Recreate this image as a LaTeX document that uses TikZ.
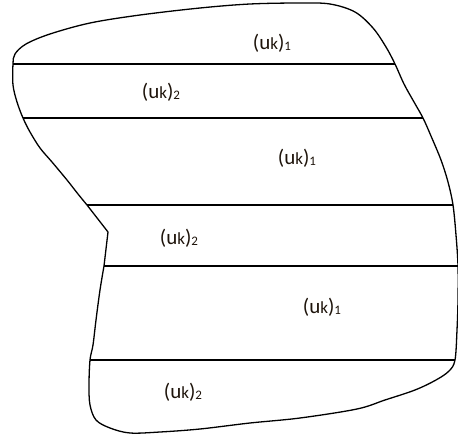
\documentclass[tikz,border=0pt]{standalone}
\usepackage{fontspec}
\setmainfont{Carlito}
\newcommand{\ukl}[1]{(u{\fontsize{17}{17}\selectfont k})\raisebox{-1.5pt}{\fontsize{13}{13}\selectfont #1}}
\begin{document}
\begin{tikzpicture}[x=1pt,y=-1pt,
  outline/.style={line width=1.3pt,line join=round,line cap=round},
  divider/.style={line width=1.3pt},
  lab/.style={font=\fontsize{21}{21}\selectfont, text=black!85!brown, inner sep=0pt}]
\useasboundingbox (0,0) rectangle (458,439);
% line end points on the outline
\coordinate (a1) at (13,64);  \coordinate (b1) at (395,64);
\coordinate (a2) at (23,118); \coordinate (b2) at (423,118);
\coordinate (a3) at (87,205); \coordinate (b3) at (453,205);
\coordinate (a4) at (104,266);\coordinate (b4) at (458,266);
\coordinate (a5) at (90,360); \coordinate (b5) at (455,360);
\coordinate (notch) at (108,232);
% outline
\draw[outline] (notch) -- plot[smooth,tension=0.55] coordinates {
 (104,266) (100,290) (96,320) (93,345) (90,360) (89,385) (90,405) (96,420) (110,428) (130,433)
 (160,432) (200,429) (250,423) (300,418) (357,409) (385,400) (415,390) (436,380)
 (449,371) (455,360) (457,330) (458,300) (458,266) (456,235) (453,205) (448,182)
 (441,160) (431,136) (423,118) (414,102) (404,84) (395,64) (386,47) (373,28)
 (355,12) (330,4) (300,3) (250,4) (200,8) (140,15) (90,23) (50,34) (26,44)
 (15,54) (13,64) (13,85) (17,102) (23,118) (30,132) (40,148) (52,162) (67,180)
 (78,194) (87,205)} -- cycle;
% dividing lines
\draw[divider] (a1) -- (b1);
\draw[divider] (a2) -- (b2);
\draw[divider] (a3) -- (b3);
\draw[divider] (a4) -- (b4);
\draw[divider] (a5) -- (b5);
% labels
\node[lab] (l1) at (272,43) {\ukl{1}};
\node[lab] (l2) at (161,92) {\ukl{2}};
\node[lab] (l3) at (297,158) {\ukl{1}};
\node[lab] (l4) at (179,238) {\ukl{2}};
\node[lab] (l5) at (322,307) {\ukl{1}};
\node[lab] (l6) at (183,392) {\ukl{2}};
\end{tikzpicture}
\end{document}
